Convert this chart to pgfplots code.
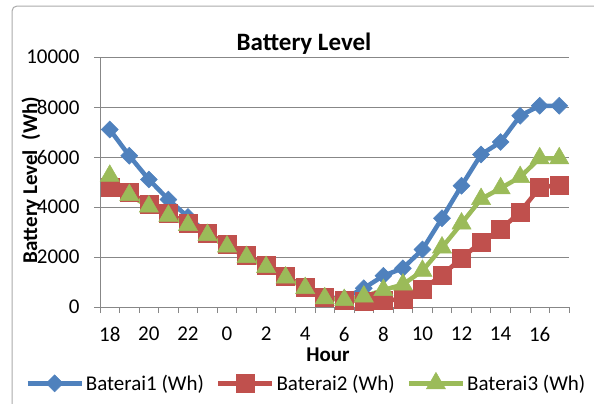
\documentclass[border=0pt]{standalone}
\usepackage{fontspec}
\setmainfont{Carlito}
\usepackage{pgfplots}
\usepackage{pgfplotstable}
\pgfplotsset{compat=1.18}
\definecolor{bA}{HTML}{4F81BD}
\definecolor{bB}{HTML}{C0504D}
\definecolor{bC}{HTML}{9BBB59}
\definecolor{gridc}{HTML}{878787}
\pgfplotstableread{
x b1 b2 b3
0 7100 4800 5250
1 6050 4580 4480
2 5100 4120 4020
3 4300 3740 3650
4 3600 3350 3280
5 2950 2950 2880
6 2500 2530 2420
7 2050 2080 2000
8 1650 1680 1600
9 1200 1220 1180
10 800 810 760
11 380 390 350
12 350 280 280
13 750 250 420
14 1250 280 680
15 1550 300 900
16 2300 700 1450
17 3550 1280 2380
18 4850 1950 3340
19 6100 2600 4320
20 6600 3100 4750
21 7650 3800 5200
22 8050 4780 5950
23 8050 4880 5950
}\datatable
\begin{document}
\begin{tikzpicture}[x=1bp,y=1bp]
\useasboundingbox (0,0) rectangle (594,-403);
\draw[gridc!70, line width=1bp, rounded corners=5bp] (12,-6) rectangle (620,-430);
\node[font=\fontsize{25bp}{29bp}\selectfont\bfseries, anchor=base] at (304,-50) {Battery Level};
\node[font=\fontsize{21bp}{25bp}\selectfont\bfseries, anchor=base, rotate=90] at (37,-180) {Battery Level\ \ (Wh)};
\node[font=\fontsize{21bp}{25bp}\selectfont\bfseries, anchor=base, inner sep=0pt] at (328,-361) {Hour};
\begin{axis}[
  at={(100bp,-307bp)}, anchor=south west,
  scale only axis, width=469bp, height=250bp,
  xmin=-0.5, xmax=23.5, ymin=0, ymax=10000,
  clip=false,
  axis lines*=left,
  axis line style={draw=gridc, line width=0.8bp},
  tick align=outside,
  ytick={0,2000,...,10000},
  xtick={-0.5,0.5,...,23.5},
  xticklabels={},
  extra x ticks={0,2,...,22},
  extra x tick labels={18,20,22,0,2,4,6,8,10,12,14,16},
  extra x tick style={major tick length=0pt, grid=none},
  major tick length=6bp,
  tick style={draw=gridc, line width=0.8bp},
  ymajorgrids,
  grid style={draw=gridc, line width=0.8bp},
  scaled ticks=false,
  /pgf/number format/1000 sep={},
  /pgf/number format/assume math mode=true,
  tick label style={font=\fontsize{21bp}{25bp}\selectfont},
  yticklabel style={xshift=-11bp},
  xticklabel style={inner sep=0pt, yshift=-20bp},
  legend columns=3,
  legend style={at={(0.44,-0.304)}, anchor=center, draw=none, fill=none,
    font=\fontsize{21bp}{25bp}\selectfont,
    /tikz/every even column/.append style={column sep=10bp},
    nodes={inner sep=2bp}},
  legend image code/.code={\draw[mark repeat=2,mark phase=2,#1] plot coordinates {(0bp,0bp) (27bp,0bp) (54bp,0bp)};},
]
\addplot[bA, line width=4.5bp, mark=square*, mark size=6bp, mark options={rotate=45, line width=0.5bp}] table[x=x,y=b1] {\datatable};
\addlegendentry{Baterai1 (Wh)}
\addplot[bB, line width=4.5bp, mark=square*, mark size=9bp, mark options={line width=0.5bp}] table[x=x,y=b2] {\datatable};
\addlegendentry{Baterai2 (Wh)}
\addplot[bC, line width=4.5bp, mark=triangle*, mark size=11bp, mark options={line width=0.5bp}] table[x=x,y=b3] {\datatable};
\addlegendentry{Baterai3 (Wh)}
\end{axis}
\end{tikzpicture}
\end{document}
